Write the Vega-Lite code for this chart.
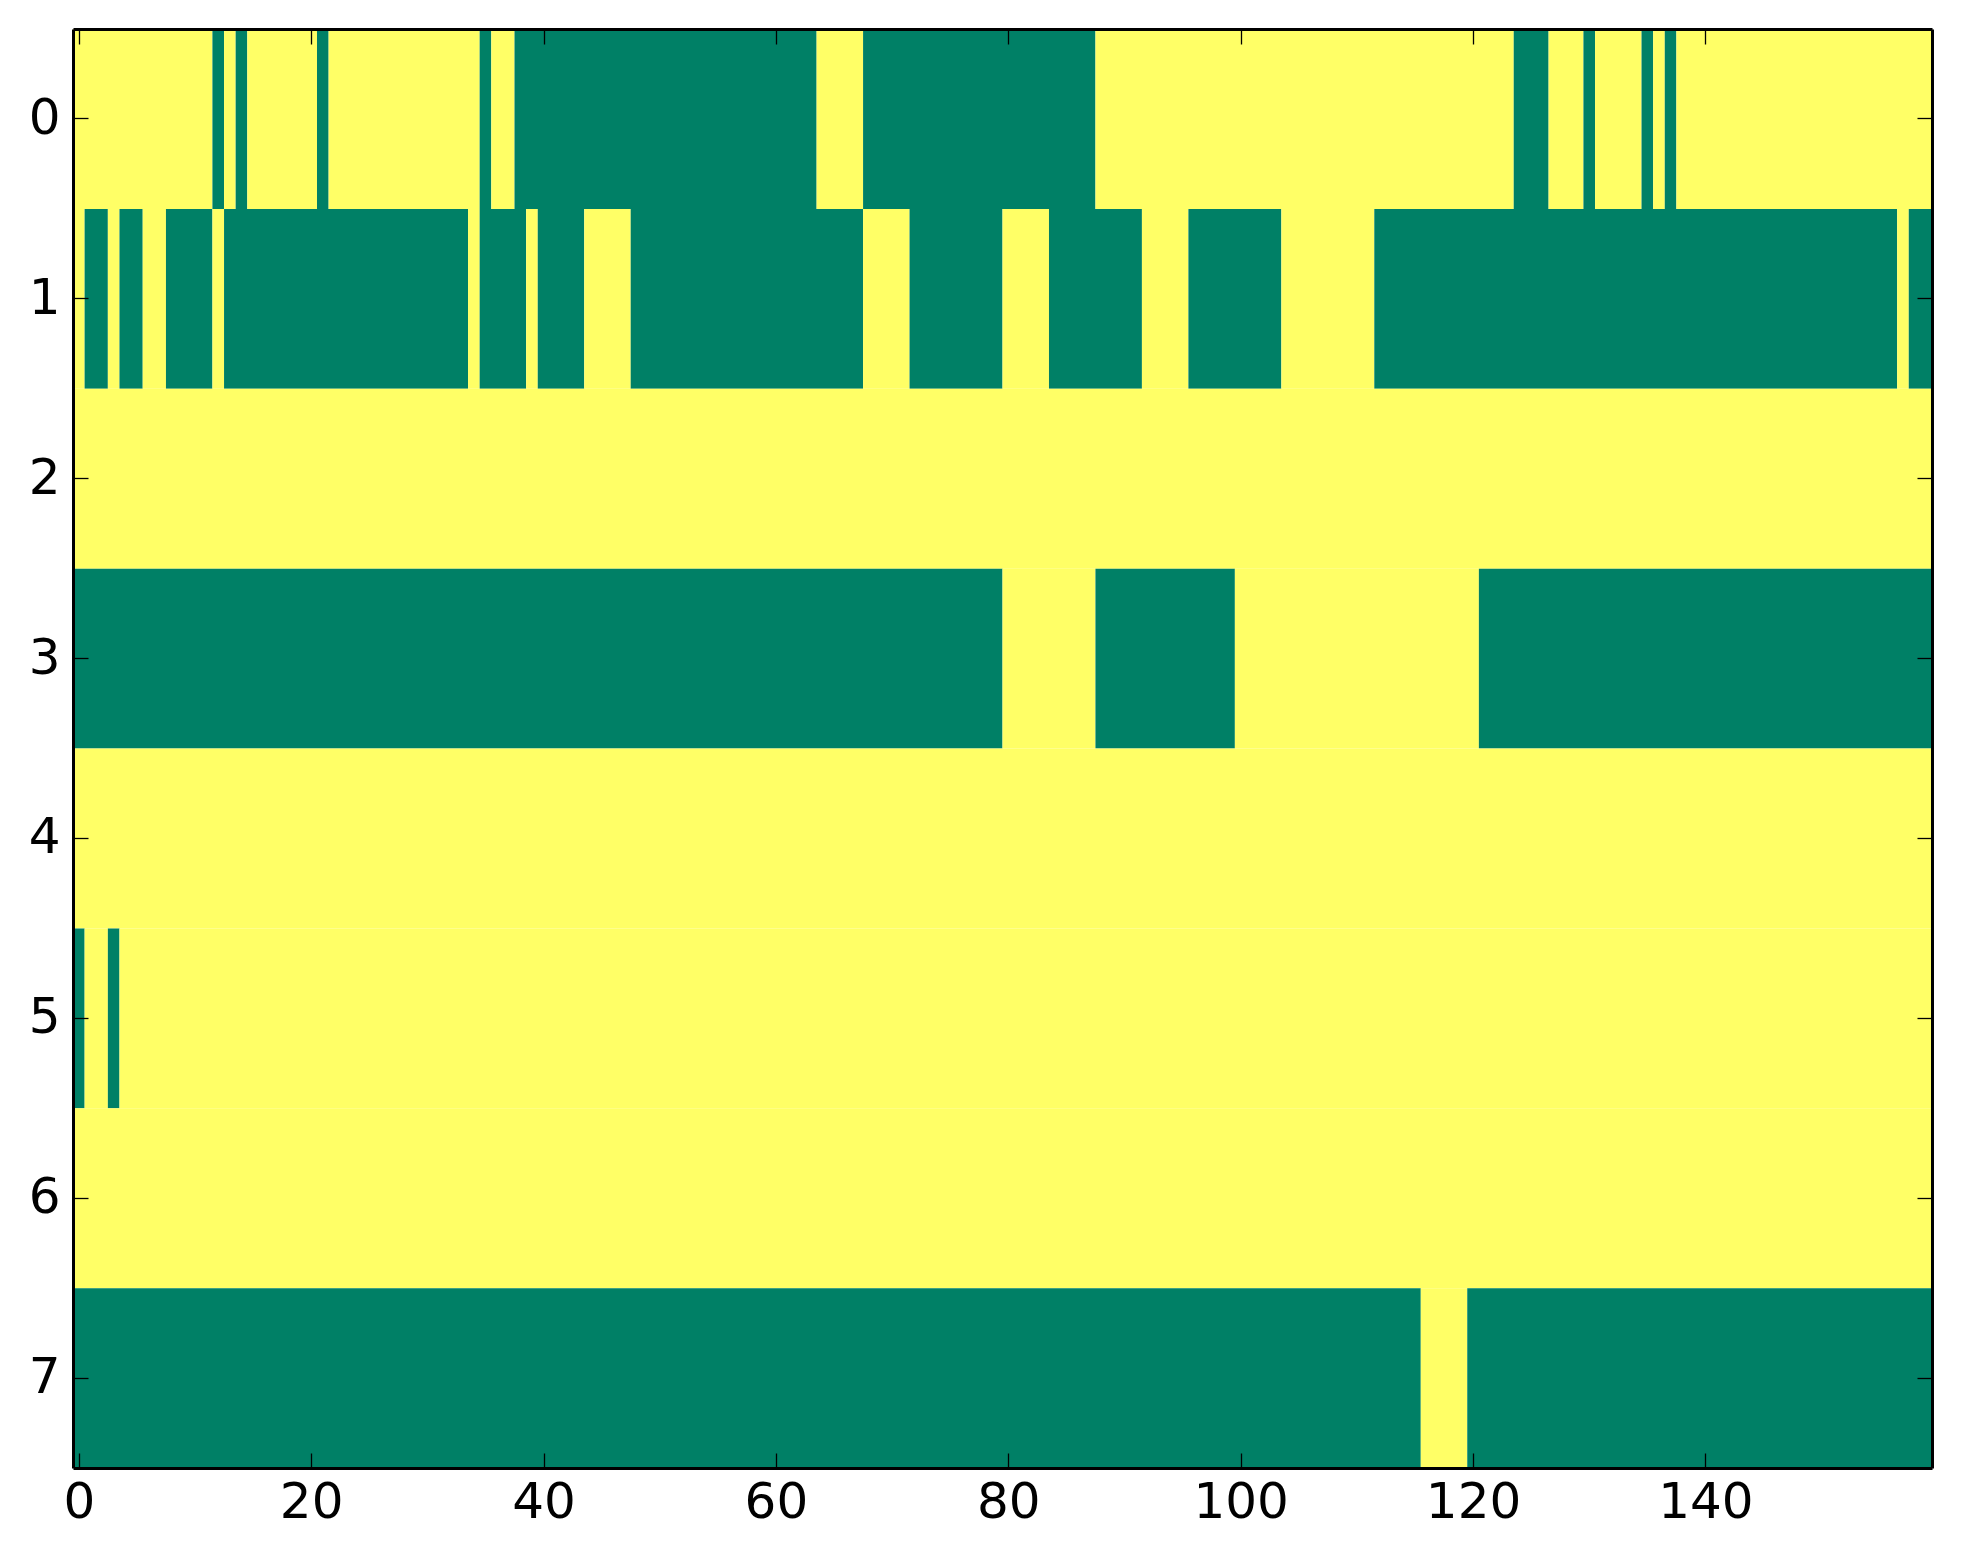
{
  "$schema": "https://vega.github.io/schema/vega-lite/v6.json",
  "autosize": "none",
  "padding": {"left": 73, "top": 29, "right": 31, "bottom": 96},
  "width": 1859,
  "height": 1439,
  "background": "white",
  "config": {
    "view": {"stroke": null},
    "axis": {
      "domain": true,
      "domainColor": "black",
      "domainWidth": 3,
      "grid": false,
      "title": null,
      "tickColor": "black",
      "tickSize": -15,
      "tickWidth": 1.3,
      "labelFont": "DejaVu Sans",
      "labelFontSize": 50,
      "labelColor": "black"
    },
    "axisX": {"labelPadding": 24},
    "axisY": {"labelPadding": 28}
  },
  "data": {
    "values": [
      {"row": 0, "x0": -0.5, "x1": 11.5, "v": 1},
      {"row": 0, "x0": 11.5, "x1": 12.5, "v": 0},
      {"row": 0, "x0": 12.5, "x1": 13.5, "v": 1},
      {"row": 0, "x0": 13.5, "x1": 14.5, "v": 0},
      {"row": 0, "x0": 14.5, "x1": 20.5, "v": 1},
      {"row": 0, "x0": 20.5, "x1": 21.5, "v": 0},
      {"row": 0, "x0": 21.5, "x1": 34.5, "v": 1},
      {"row": 0, "x0": 34.5, "x1": 35.5, "v": 0},
      {"row": 0, "x0": 35.5, "x1": 37.5, "v": 1},
      {"row": 0, "x0": 37.5, "x1": 63.5, "v": 0},
      {"row": 0, "x0": 63.5, "x1": 67.5, "v": 1},
      {"row": 0, "x0": 67.5, "x1": 87.5, "v": 0},
      {"row": 0, "x0": 87.5, "x1": 123.5, "v": 1},
      {"row": 0, "x0": 123.5, "x1": 126.5, "v": 0},
      {"row": 0, "x0": 126.5, "x1": 129.5, "v": 1},
      {"row": 0, "x0": 129.5, "x1": 130.5, "v": 0},
      {"row": 0, "x0": 130.5, "x1": 134.5, "v": 1},
      {"row": 0, "x0": 134.5, "x1": 135.5, "v": 0},
      {"row": 0, "x0": 135.5, "x1": 136.5, "v": 1},
      {"row": 0, "x0": 136.5, "x1": 137.5, "v": 0},
      {"row": 0, "x0": 137.5, "x1": 159.5, "v": 1},
      {"row": 1, "x0": -0.5, "x1": 0.5, "v": 1},
      {"row": 1, "x0": 0.5, "x1": 2.5, "v": 0},
      {"row": 1, "x0": 2.5, "x1": 3.5, "v": 1},
      {"row": 1, "x0": 3.5, "x1": 5.5, "v": 0},
      {"row": 1, "x0": 5.5, "x1": 7.5, "v": 1},
      {"row": 1, "x0": 7.5, "x1": 11.5, "v": 0},
      {"row": 1, "x0": 11.5, "x1": 12.5, "v": 1},
      {"row": 1, "x0": 12.5, "x1": 33.5, "v": 0},
      {"row": 1, "x0": 33.5, "x1": 34.5, "v": 1},
      {"row": 1, "x0": 34.5, "x1": 38.5, "v": 0},
      {"row": 1, "x0": 38.5, "x1": 39.5, "v": 1},
      {"row": 1, "x0": 39.5, "x1": 43.5, "v": 0},
      {"row": 1, "x0": 43.5, "x1": 47.5, "v": 1},
      {"row": 1, "x0": 47.5, "x1": 67.5, "v": 0},
      {"row": 1, "x0": 67.5, "x1": 71.5, "v": 1},
      {"row": 1, "x0": 71.5, "x1": 79.5, "v": 0},
      {"row": 1, "x0": 79.5, "x1": 83.5, "v": 1},
      {"row": 1, "x0": 83.5, "x1": 91.5, "v": 0},
      {"row": 1, "x0": 91.5, "x1": 95.5, "v": 1},
      {"row": 1, "x0": 95.5, "x1": 103.5, "v": 0},
      {"row": 1, "x0": 103.5, "x1": 111.5, "v": 1},
      {"row": 1, "x0": 111.5, "x1": 156.5, "v": 0},
      {"row": 1, "x0": 156.5, "x1": 157.5, "v": 1},
      {"row": 1, "x0": 157.5, "x1": 159.5, "v": 0},
      {"row": 2, "x0": -0.5, "x1": 159.5, "v": 1},
      {"row": 3, "x0": -0.5, "x1": 79.5, "v": 0},
      {"row": 3, "x0": 79.5, "x1": 87.5, "v": 1},
      {"row": 3, "x0": 87.5, "x1": 99.5, "v": 0},
      {"row": 3, "x0": 99.5, "x1": 120.5, "v": 1},
      {"row": 3, "x0": 120.5, "x1": 159.5, "v": 0},
      {"row": 4, "x0": -0.5, "x1": 159.5, "v": 1},
      {"row": 5, "x0": -0.5, "x1": 0.5, "v": 0},
      {"row": 5, "x0": 0.5, "x1": 2.5, "v": 1},
      {"row": 5, "x0": 2.5, "x1": 3.5, "v": 0},
      {"row": 5, "x0": 3.5, "x1": 159.5, "v": 1},
      {"row": 6, "x0": -0.5, "x1": 159.5, "v": 1},
      {"row": 7, "x0": -0.5, "x1": 115.5, "v": 0},
      {"row": 7, "x0": 115.5, "x1": 119.5, "v": 1},
      {"row": 7, "x0": 119.5, "x1": 159.5, "v": 0}
    ]
  },
  "layer": [
    {
      "mark": {"type": "rect", "strokeWidth": 0},
      "encoding": {
        "x": {
          "field": "x0",
          "type": "quantitative",
          "scale": {"domain": [-0.5, 159.5], "nice": false, "zero": false},
          "axis": {"orient": "bottom", "zindex": 1, "values": [0, 20, 40, 60, 80, 100, 120, 140]}
        },
        "x2": {"field": "x1"},
        "y": {
          "field": "row",
          "type": "ordinal",
          "scale": {"paddingInner": 0, "paddingOuter": 0},
          "axis": {"orient": "left", "zindex": 1, "labelAngle": 0}
        },
        "color": {
          "field": "v",
          "type": "nominal",
          "scale": {"domain": [0, 1], "range": ["#008066", "#ffff66"]},
          "legend": null
        }
      }
    },
    {
      "mark": {"type": "rect", "opacity": 0},
      "encoding": {
        "x": {
          "field": "x0",
          "type": "quantitative",
          "axis": {"orient": "top", "zindex": 1, "labels": false, "values": [0, 20, 40, 60, 80, 100, 120, 140]}
        },
        "x2": {"field": "x1"},
        "y": {
          "field": "row",
          "type": "ordinal",
          "axis": {"orient": "right", "zindex": 1, "labels": false}
        }
      }
    }
  ],
  "resolve": {"axis": {"x": "independent", "y": "independent"}}
}
